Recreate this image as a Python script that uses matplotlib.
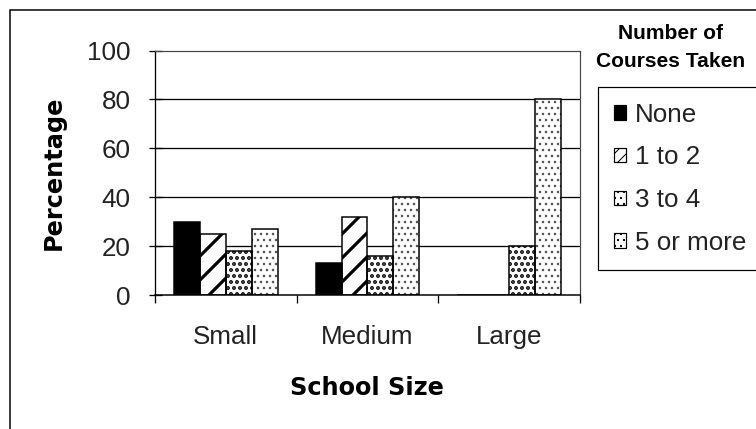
import matplotlib
matplotlib.use("Agg")
import matplotlib.pyplot as plt
from matplotlib.patches import Rectangle, Patch
import numpy as np

categories = ["Small", "Medium", "Large"]
series_names = ["None", "1 to 2", "3 to 4", "5 or more"]
none_vals = [30, 13, 0]
one_two_vals = [25, 32, 0]
three_four_vals = [18, 16, 20]
five_plus_vals = [27, 40, 80]
y_ticks = [0, 20, 40, 60, 80, 100]

W, H, DPI = 756, 429, 72
fig = plt.figure(figsize=(W / DPI, H / DPI), dpi=DPI)
fig.patch.set_facecolor("white")

def fx(px):
    return px / W

def fy(py):
    return 1 - py / H

ax = fig.add_axes([fx(155), fy(295.3), fx(580) - fx(155), fy(50.5) - fy(295.3)])

reg = "Liberation Sans"
bold_font = "DejaVu Sans"

x = np.arange(len(categories))
bw = 0.183
offsets = (np.arange(4) - 1.5) * bw
series = [none_vals, one_two_vals, three_four_vals, five_plus_vals]
styles = [
    dict(fc="black", hatch=None, lhatch=None, hcol="black", hlw=1.0),
    dict(fc="white", hatch="/", lhatch="//", hcol="black", hlw=3.2),
    dict(fc="white", hatch="..", lhatch="..", hcol="black", hlw=2.6),
    dict(fc="white", hatch="..", lhatch="..", hcol="#555555", hlw=1.3),
]

# gridlines
for t in [20, 40, 60, 80]:
    ax.axhline(t, color="black", lw=1.3, zorder=1)

handles = []
for vals, off, st, name in zip(series, offsets, styles, series_names):
    bars = ax.bar(x + off, vals, width=bw, color=st["fc"], edgecolor=st["hcol"],
                  linewidth=0, hatch=st["hatch"], zorder=2)
    for b in bars:
        if hasattr(b, "set_hatch_linewidth"):
            b.set_hatch_linewidth(st["hlw"])
    ax.bar(x + off, vals, width=bw, fill=False, edgecolor="black", linewidth=1.5, zorder=3)
    h = Patch(facecolor=st["fc"], edgecolor="black", hatch=st["lhatch"], linewidth=1.2, label=name)
    if hasattr(h, "set_hatch_linewidth"):
        h.set_hatch_linewidth(min(st["hlw"], 1.6))
    handles.append(h)

ax.set_xlim(-0.5, 2.5)
ax.set_ylim(0, 100)

# spines
ax.spines["left"].set_color("black")
ax.spines["left"].set_linewidth(1.3)
ax.spines["bottom"].set_color("black")
ax.spines["bottom"].set_linewidth(1.5)
for s in ["top", "right"]:
    ax.spines[s].set_color("#444444")
    ax.spines[s].set_linewidth(1.2)
    ax.spines[s].set_linestyle((0, (1, 1)))

ax.set_yticks(y_ticks)
ax.set_yticklabels([str(t) for t in y_ticks], fontfamily=reg, fontsize=26, color="#222222")
ax.tick_params(axis="y", direction="inout", length=13, width=1.3, pad=18)

ax.set_xticks([-0.5, 0.5, 1.5, 2.5])
ax.set_xticklabels([])
ax.tick_params(axis="x", which="major", direction="out", length=8, width=1.3)
ax.set_xticks(x, categories, minor=True)
ax.tick_params(axis="x", which="minor", length=0, pad=30, labelsize=26, labelcolor="#222222")
for lab in ax.get_xticklabels(minor=True):
    lab.set_fontfamily(reg)

# axis titles
fig.text(fx(367), fy(395), "School Size", ha="center", va="baseline",
         fontfamily=bold_font, fontweight="bold", fontsize=24)
fig.text(fx(54), fy(172.5), "Percentage", ha="center", va="center", rotation=90,
         fontfamily=bold_font, fontweight="bold", fontsize=24)

# legend title
fig.text(fx(671), fy(39), "Number of", ha="center", va="baseline",
         fontfamily=reg, fontweight="bold", fontsize=21)
fig.text(fx(671), fy(67), "Courses Taken", ha="center", va="baseline",
         fontfamily=reg, fontweight="bold", fontsize=21)

leg = fig.legend(handles=handles, loc="upper left",
                 bbox_to_anchor=(fx(598), fy(262), fx(820) - fx(598), fy(87) - fy(262)),
                 mode="expand", prop={"family": reg, "size": 26},
                 handlelength=0.48, handleheight=0.48, handletextpad=0.35,
                 labelspacing=0.72, borderpad=0.6, borderaxespad=0,
                 fancybox=False, frameon=True, framealpha=1)
leg.get_frame().set_edgecolor("black")
leg.get_frame().set_linewidth(1.2)
for t in leg.get_texts():
    t.set_color("#222222")

# outer chart border
fig.add_artist(Rectangle((fx(10), -0.5), 2, fy(10) + 0.5, transform=fig.transFigure,
                         fill=False, edgecolor="black", linewidth=1.5))

fig.savefig("out.png", dpi=DPI, facecolor="white")
